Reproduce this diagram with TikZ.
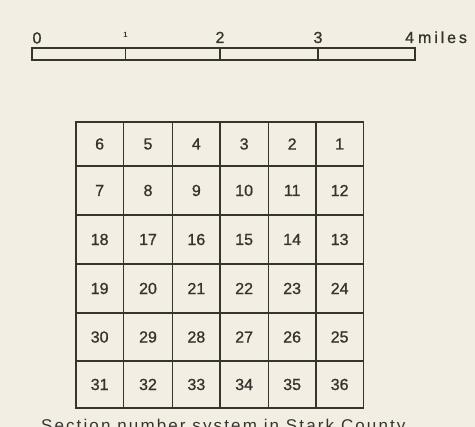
\documentclass[tikz,border=0pt]{standalone}
\usepackage{fontspec}
\setmainfont{Liberation Sans}
\newfontfamily\capfont[LetterSpace=12.5]{Liberation Sans}
\newfontfamily\numfont[FakeBold=1]{Liberation Sans}
\newfontfamily\milesfont[LetterSpace=18,FakeBold=1]{Liberation Sans}
\definecolor{paper}{RGB}{243,238,228}
\definecolor{ink}{RGB}{55,52,48}
\tikzset{
  section/.style={draw=ink, line width=1.4pt, inner sep=0pt, text=ink,
    font=\numfont\fontsize{16}{16}\selectfont},
  milelabel/.style={text=ink, font=\numfont\fontsize{16}{16}\selectfont, inner sep=0pt, anchor=base},
}
\begin{document}
\begin{tikzpicture}[x=1pt, y=-1pt]
    % Paper
    \fill[paper] (0,0) rectangle (475,427);
    \useasboundingbox (0,0) rectangle (475,427);

    % Scale bar
    \coordinate (bar0) at (32,48);
    \coordinate (bar4) at (415,60);
    \coordinate (tick1) at (125.5,48);
    \coordinate (tick2) at (220,48);
    \coordinate (tick3) at (318,48);
    \draw[ink, line width=1.2pt] (bar0) rectangle (bar4);
    \foreach \t in {tick1, tick2, tick3}
        \draw[ink, line width=1.2pt] (\t) -- (\t |- bar4);

    % Mile labels
    \node[milelabel] (lab0) at (37,43.5) {0};
    \node[milelabel, font=\bfseries\fontsize{7.5}{7.5}\selectfont] (lab1) at (125.5,37.7) {1};
    \node[milelabel] (lab2) at (220,43) {2};
    \node[milelabel] (lab3) at (318,43) {3};
    \node[milelabel, anchor=base west] (lab4) at (405,43) {4\hspace{4pt}{\milesfont miles}};

    % Sections, numbered back and forth
    \foreach \r/\ym/\h in {0/144/44, 1/190.5/49, 2/239.5/49, 3/288.5/49, 4/337/48, 5/384.5/47}{
        \foreach \c/\xm/\w in {0/99.65/47.3, 1/148/49.4, 2/196.35/47.3, 3/244.15/48.3, 4/292.15/47.7, 5/339.65/47.3}{
            \pgfmathtruncatemacro{\n}{mod(\r,2)==1 ? 6*\r+\c+1 : 6*\r+6-\c}
            \node[section, minimum width=\w pt, minimum height=\h pt] (s\n) at (\xm,\ym) {\n};
        }
    }

    % Caption
    \node[text=ink, inner sep=0pt, anchor=base] (caption) at (223.3,432)
        {\capfont\fontsize{17}{17}\selectfont Section number system in Stark County};
\end{tikzpicture}
\end{document}
